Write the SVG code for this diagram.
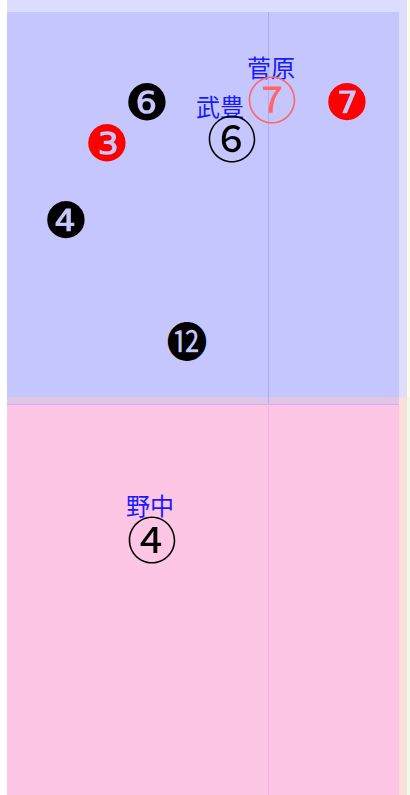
<svg xmlns="http://www.w3.org/2000/svg" width="410" height="795" viewBox="0 0 410 795">
<style>
.lbl{font-family:"Noto Sans CJK JP","Noto Sans CJK SC",sans-serif;font-size:24px;fill:#1a1aff;text-anchor:middle}
.neg{font-family:"DejaVu Serif","DejaVu Sans","Noto Sans CJK JP",serif;font-size:50px;text-anchor:middle;dominant-baseline:central}
.pos{font-family:"Noto Sans CJK JP",sans-serif;font-size:50px;text-anchor:middle;dominant-baseline:central}
</style>
<g id="background">
<rect x="0" y="0" width="410" height="795" fill="#ffffff"/>
<rect x="7" y="0" width="400" height="397" fill="#ddddff"/>
<rect x="407" y="0" width="3" height="397" fill="#ffffdd"/>
<rect x="7" y="397" width="400" height="398" fill="#fddcdc"/>
<rect x="407" y="397" width="3" height="398" fill="#e6ffe6"/>
<rect x="7" y="12" width="392" height="385" fill="#c6c6ff"/>
<rect x="7" y="397" width="392" height="7" fill="#dfc6e6"/>
<rect x="7" y="404" width="392" height="391" fill="#fdc6e4"/>
<line x1="7" y1="404.5" x2="399" y2="404.5" stroke="#d4aaf2" stroke-width="1"/>
<line x1="268.5" y1="12" x2="268.5" y2="404" stroke="#aaaaff" stroke-width="1"/>
<line x1="268.5" y1="404" x2="268.5" y2="795" stroke="#ffaaee" stroke-width="1"/>
</g>
<g id="n-sugawara">
<text class="lbl" x="271" y="77">菅原</text>
<text class="pos" x="272" y="97" fill="#ff6666">⑦</text>
</g>
<g id="n-take">
<text class="lbl" x="220" y="116">武豊</text>
<text class="pos" x="232" y="136" fill="#000000">⑥</text>
</g>
<g id="n-nonaka">
<text class="lbl" x="150" y="515">野中</text>
<text class="pos" x="152" y="537" fill="#000000">④</text>
</g>
<g id="m6"><text class="neg" x="147" y="103" fill="#000000">❻</text></g>
<g id="m3"><text class="neg" x="107" y="144" fill="#ff0000">❸</text></g>
<g id="m7"><text class="neg" x="347" y="103" fill="#ff0000">❼</text></g>
<g id="m4"><text class="neg" x="66" y="221" fill="#000000">❹</text></g>
<g id="m12"><text class="neg" x="187" y="343" fill="#000000" style="font-size:41px">⓬</text></g>
</svg>
